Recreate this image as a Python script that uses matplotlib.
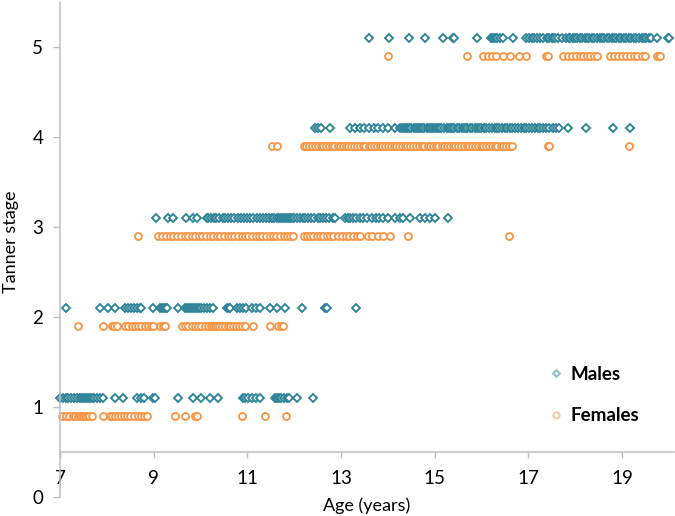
import matplotlib
matplotlib.use("Agg")
import matplotlib.pyplot as plt
import numpy as np

plt.rcParams['font.family'] = ['Lato', 'DejaVu Sans']

# Tanner stage offsets: males plotted at stage+0.1, females at stage-0.1
male_ages = {
    5: [13.60, 14.03, 14.46, 14.79, 15.17, 15.39, 15.42, 15.90, 16.20, 16.25, 16.29, 16.34, 16.40, 16.45, 16.68,
        16.96, 17.02, 17.08, 17.13, 17.19, 17.25, 17.32, 17.40, 17.45, 17.50, 17.53, 17.56, 17.64, 17.72, 17.80,
        17.86, 17.90, 17.95, 18.00, 18.05, 18.10, 18.14, 18.20, 18.25, 18.30, 18.36, 18.41, 18.46, 18.52, 18.57,
        18.62, 18.68, 18.72, 18.78, 18.83, 18.88, 18.93, 18.98, 19.04, 19.09, 19.14, 19.20, 19.25, 19.30, 19.36,
        19.42, 19.48, 19.52, 19.57, 19.62, 19.74, 19.98, 20.00],
    4: [12.44, 12.50, 12.58, 12.77, 13.19, 13.30, 13.40, 13.50, 13.60, 13.70, 13.80, 13.90, 14.00, 14.15, 14.26,
        14.30, 14.34, 14.38, 14.42, 14.46, 14.50, 14.55, 14.60, 14.64, 14.68, 14.72, 14.78, 14.84, 14.88, 14.92,
        14.96, 15.00, 15.05, 15.10, 15.14, 15.20, 15.26, 15.30, 15.34, 15.38, 15.42, 15.48, 15.52, 15.58, 15.62,
        15.66, 15.70, 15.76, 15.80, 15.86, 15.90, 15.95, 16.00, 16.05, 16.10, 16.16, 16.22, 16.28, 16.34, 16.38,
        16.44, 16.50, 16.55, 16.60, 16.66, 16.72, 16.78, 16.84, 16.90, 16.96, 17.02, 17.08, 17.14, 17.20, 17.26,
        17.32, 17.38, 17.44, 17.52, 17.60, 17.66, 17.85, 18.24, 18.81, 19.17],
    3: [9.06, 9.31, 9.42, 9.69, 9.85, 9.93, 10.13, 10.17, 10.22, 10.28, 10.33, 10.40, 10.47, 10.52, 10.58,
        10.66, 10.72, 10.80, 10.86, 10.93, 11.00, 11.06, 11.13, 11.20, 11.27, 11.33, 11.40, 11.46, 11.52, 11.58,
        11.64, 11.68, 11.72, 11.76, 11.80, 11.84, 11.88, 11.92, 11.96, 12.00, 12.05, 12.12, 12.18, 12.24, 12.30,
        12.36, 12.42, 12.50, 12.56, 12.62, 12.68, 12.75, 12.82, 12.88, 13.09, 13.14, 13.20, 13.26, 13.32, 13.40,
        13.48, 13.55, 13.66, 13.74, 13.82, 13.90, 14.01, 14.15, 14.25, 14.33, 14.47, 14.69, 14.80, 14.90, 15.00,
        15.29],
    2: [7.12, 7.85, 8.03, 8.17, 8.39, 8.45, 8.52, 8.58, 8.64, 8.70, 8.74, 8.98, 9.14, 9.18, 9.22, 9.26, 9.28,
        9.53, 9.67, 9.72, 9.76, 9.80, 9.84, 9.88, 9.92, 9.97, 10.02, 10.08, 10.14, 10.20, 10.27, 10.56, 10.60,
        10.63, 10.77, 10.84, 10.91, 10.98, 11.09, 11.18, 11.27, 11.48, 11.63, 11.80, 12.16, 12.66, 12.70, 13.31],
    1: [7.00, 7.06, 7.12, 7.18, 7.24, 7.30, 7.36, 7.42, 7.48, 7.52, 7.56, 7.60, 7.64, 7.68, 7.72, 7.80, 7.86,
        7.92, 8.17, 8.35, 8.64, 8.72, 8.80, 8.99, 9.02, 9.53, 9.83, 10.02, 10.20, 10.38, 10.91, 10.96, 11.02,
        11.10, 11.18, 11.27, 11.59, 11.64, 11.68, 11.72, 11.78, 11.84, 11.90, 12.05, 12.41],
}

female_ages = {
    5: [14.01, 15.68, 16.03, 16.13, 16.22, 16.32, 16.46, 16.60, 16.81, 16.96, 17.37, 17.41, 17.75, 17.84, 17.93,
        18.02, 18.10, 18.16, 18.25, 18.32, 18.40, 18.47, 18.74, 18.83, 18.92, 19.00, 19.08, 19.17, 19.26, 19.33,
        19.42, 19.50, 19.74, 19.78, 19.82],
    4: [11.52, 11.63, 12.20, 12.26, 12.31, 12.38, 12.44, 12.50, 12.57, 12.62, 12.68, 12.75, 12.80, 12.86, 12.93,
        12.98, 13.04, 13.11, 13.16, 13.22, 13.28, 13.35, 13.40, 13.46, 13.52, 13.59, 13.64, 13.70, 13.76, 13.83,
        13.88, 13.94, 14.00, 14.06, 14.13, 14.18, 14.24, 14.30, 14.37, 14.42, 14.48, 14.54, 14.61, 14.66, 14.72,
        14.78, 14.85, 14.90, 14.96, 15.02, 15.08, 15.15, 15.20, 15.26, 15.32, 15.39, 15.44, 15.50, 15.56, 15.62,
        15.69, 15.74, 15.80, 15.86, 15.93, 15.98, 16.04, 16.10, 16.17, 16.22, 16.28, 16.34, 16.41, 16.46, 16.52,
        16.58, 16.66, 17.41, 17.45, 19.16],
    3: [8.67, 9.10, 9.18, 9.26, 9.34, 9.42, 9.50, 9.58, 9.66, 9.74, 9.81, 9.88, 9.96, 10.04, 10.12, 10.20,
        10.27, 10.35, 10.42, 10.50, 10.58, 10.65, 10.72, 10.80, 10.88, 10.95, 11.02, 11.10, 11.18, 11.25, 11.32,
        11.40, 11.48, 11.55, 11.62, 11.70, 11.78, 11.85, 11.92, 11.98, 12.20, 12.27, 12.34, 12.41, 12.48, 12.55,
        12.62, 12.70, 12.76, 12.83, 12.94, 13.02, 13.10, 13.18, 13.26, 13.34, 13.41, 13.58, 13.66, 13.78, 13.90,
        14.05, 14.44, 16.59],
    2: [7.38, 7.92, 8.10, 8.16, 8.21, 8.39, 8.46, 8.53, 8.60, 8.67, 8.74, 8.81, 8.88, 8.95, 8.99, 9.14, 9.20,
        9.24, 9.60, 9.67, 9.74, 9.81, 9.88, 9.95, 10.02, 10.09, 10.16, 10.22, 10.27, 10.31, 10.35, 10.40, 10.46,
        10.52, 10.58, 10.64, 10.70, 10.76, 10.82, 10.88, 10.95, 11.13, 11.48, 11.66, 11.72, 11.77],
    1: [7.04, 7.12, 7.20, 7.27, 7.33, 7.38, 7.42, 7.46, 7.50, 7.54, 7.58, 7.62, 7.68, 7.92, 8.07, 8.12, 8.18,
        8.24, 8.30, 8.36, 8.42, 8.50, 8.58, 8.66, 8.74, 8.80, 8.85, 9.46, 9.66, 9.88, 9.92, 10.88, 11.38, 11.82],
}

x_ticks = [7, 9, 11, 13, 15, 17, 19]
y_ticks = [0, 1, 2, 3, 4, 5]

male_color = '#2F8398'
female_color = '#F79646'
axis_color = '#BFBFBF'

fig = plt.figure(figsize=(6.75, 5.16), dpi=100)
ax = fig.add_axes([60 / 675, (516 - 496.7) / 516, 613.5 / 675, 495 / 516])

mx = np.concatenate([np.array(v) for v in male_ages.values()])
my = np.concatenate([np.full(len(v), k + 0.1) for k, v in male_ages.items()])
fx = np.concatenate([np.array(v) for v in female_ages.values()])
fy = np.concatenate([np.full(len(v), k - 0.1) for k, v in female_ages.items()])

ax.plot(mx, my, linestyle='none', marker='D', markersize=3.8, markerfacecolor='white',
        markeredgecolor=male_color, markeredgewidth=1.35, label='Males', clip_on=False)
ax.plot(fx, fy, linestyle='none', marker='o', markersize=5.0, markerfacecolor='white',
        markeredgecolor=female_color, markeredgewidth=1.35, label='Females', clip_on=False)

ax.set_xlim(7, 20.1)
ax.set_ylim(0, 5.5)
ax.set_xticks(x_ticks)
ax.set_xticklabels([str(t) for t in x_ticks])
ax.set_yticks(y_ticks)
ax.set_yticklabels([str(t) for t in y_ticks])

for s in ['top', 'right']:
    ax.spines[s].set_visible(False)
ax.spines['bottom'].set_position(('data', 0.5))
ax.spines['bottom'].set_color(axis_color)
ax.spines['left'].set_color(axis_color)
ax.spines['bottom'].set_linewidth(1.1)
ax.spines['left'].set_linewidth(1.1)

ax.tick_params(axis='x', direction='out', length=4.3, width=1.0, color=axis_color, pad=9, labelsize=13.5)
ax.tick_params(axis='y', direction='out', length=5, width=1.0, color=axis_color, pad=7, labelsize=13.5)

ax.set_xlabel('Age (years)', fontsize=13)
ax.xaxis.set_label_coords(0.5, -0.001)
ax.set_ylabel('Tanner stage', fontsize=13)
ax.yaxis.set_label_coords(-0.067, 0.515)

leg = ax.legend(loc='center left', bbox_to_anchor=(0.781, 0.2055), frameon=False,
                handlelength=0.8, handletextpad=0.35, labelspacing=1.3, borderpad=0,
                prop={'weight': 'bold', 'size': 13.5}, markerscale=0.9)
for h in leg.legend_handles:
    h.set_alpha(0.55)

fig.savefig('out.png', dpi=100)
